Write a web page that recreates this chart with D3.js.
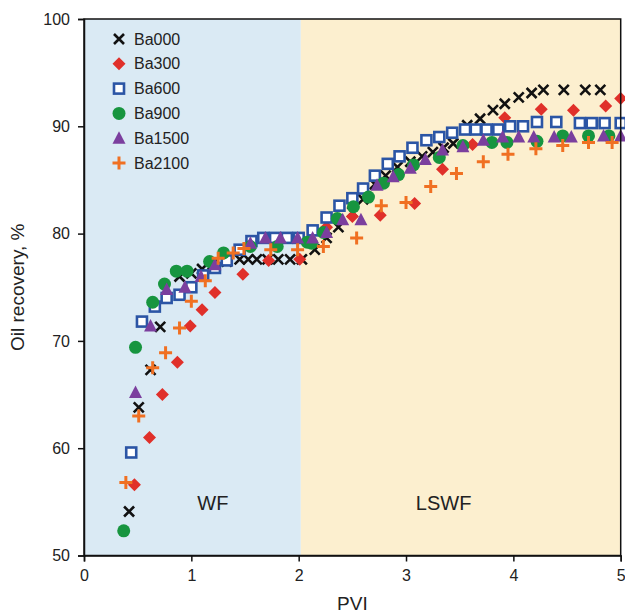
<!DOCTYPE html>
<html>
<head>
<meta charset="utf-8">
<script src="https://cdn.jsdelivr.net/npm/d3@7"></script>
<style>
  body { margin: 0; background: #fff; }
  text { font-family: "Liberation Sans", Arial, sans-serif; fill: #222; }
</style>
</head>
<body>
<div id="chart"></div>
<script>
// series data: [PVI, oil recovery %]
const ba000 = [[0.42,54.1],[0.51,63.8],[0.62,67.3],[0.71,71.3],[0.89,76.0],[1.0,76.3],[1.1,76.7],[1.2,77.1],[1.33,77.4],[1.45,77.6],[1.53,77.6],[1.61,77.6],[1.71,77.6],[1.81,77.6],[1.92,77.6],[2.03,77.6],
  [2.15,78.5],[2.26,79.6],[2.37,80.6],[2.5,82.0],[2.6,83.2],[2.71,84.6],[2.81,85.4],[2.92,86.2],[3.04,86.7],[3.15,87.2],[3.25,87.6],[3.35,88.0],[3.44,88.4],[3.57,90.1],[3.69,90.7],[3.81,91.5],[3.92,92.1],[4.05,92.7],[4.17,93.1],[4.28,93.4],[4.47,93.4],[4.67,93.4],[4.81,93.4]];
const ba300 = [[0.47,56.6],[0.61,61.0],[0.73,65.0],[0.87,68.0],[0.99,71.4],[1.1,72.9],[1.22,74.5],[1.48,76.2],[1.72,77.5],[2.01,77.6],[2.26,80.6],[2.5,81.6],[2.76,81.7],[3.08,82.8],[3.34,86.0],[3.62,88.3],[3.92,90.8],[4.26,91.6],[4.56,91.5],[4.86,91.9],[5.0,92.6]];
const ba600 = [[0.44,59.6],[0.54,71.8],[0.66,73.2],[0.77,74.0],[0.89,74.3],[1.0,75.0],[1.11,76.1],[1.22,76.8],[1.33,77.5],[1.45,78.5],[1.56,79.3],[1.67,79.6],[1.78,79.6],[1.89,79.6],[2.0,79.6],
  [2.13,80.3],[2.26,81.5],[2.38,82.6],[2.5,83.3],[2.6,84.2],[2.71,85.4],[2.83,86.5],[2.94,87.2],[3.06,88.0],[3.19,88.7],[3.31,89.0],[3.43,89.4],[3.55,89.7],[3.65,89.7],[3.75,89.7],[3.86,89.7],[3.97,90.0],[4.09,90.0],[4.22,90.4],[4.4,90.4],[4.62,90.3],[4.73,90.3],[4.85,90.3],[5.0,90.3]];
const ba900 = [[0.37,52.3],[0.48,69.4],[0.64,73.6],[0.75,75.3],[0.86,76.5],[0.96,76.5],[1.17,77.4],[1.3,78.2],[1.55,78.8],[1.8,78.8],[2.08,79.2],
  [2.12,79.1],[2.23,80.1],[2.36,81.4],[2.51,82.5],[2.65,83.4],[2.79,84.7],[2.93,85.5],[3.07,86.4],[3.31,87.1],[3.53,88.2],[3.8,88.5],[3.94,88.5],[4.22,88.6],[4.46,89.1],[4.7,89.1],[4.89,89.1]];
const ba1500 = [[0.48,65.2],[0.62,71.4],[0.77,74.8],[0.94,75.0],[1.09,76.0],[1.22,77.1],[1.55,79.1],[1.69,79.6],[1.83,79.6],[1.99,79.6],
  [2.13,79.6],[2.26,80.1],[2.41,81.3],[2.58,81.3],[2.73,84.5],[2.88,85.3],[3.04,86.1],[3.18,86.9],[3.34,87.8],[3.53,88.1],[3.72,88.7],[3.9,89.0],[4.05,89.0],[4.19,89.0],[4.38,89.0],[4.54,89.0],[4.84,89.1],[5.0,89.1]];
const ba2100 = [[0.39,56.8],[0.51,63.0],[0.64,67.5],[0.76,68.9],[0.89,71.2],[1.0,73.7],[1.13,75.6],[1.25,77.7],[1.39,78.2],[1.49,78.6],[1.74,78.5],[1.99,78.5],
  [2.23,78.8],[2.54,79.6],[2.77,82.6],[3.0,82.9],[3.23,84.4],[3.47,85.6],[3.72,86.7],[3.95,87.4],[4.21,87.9],[4.46,88.2],[4.7,88.5],[4.92,88.5]];

const seriesNames = ["Ba000", "Ba300", "Ba600", "Ba900", "Ba1500", "Ba2100"];
const seriesData = [ba000, ba300, ba600, ba900, ba1500, ba2100];
const xTicks = [0, 1, 2, 3, 4, 5];
const yTicks = [50, 60, 70, 80, 90, 100];
const wfEnd = 2.02;

const colors = ["#111111", "#e0302a", "#2b55a5", "#17953f", "#7b3f9e", "#f07022"];

const margin = { top: 19, right: 4, bottom: 60, left: 84 };
const W = 625, H = 616;

const svg = d3.select("#chart").append("svg")
  .attr("width", W).attr("height", H);
const g = svg.append("g").attr("transform", `translate(${margin.left},${margin.top})`);

const x = d3.scaleLinear().domain([0, 5]).range([0, 536.7]);
const y = d3.scaleLinear().domain([50, 100]).range([536.5, 0]);

// flooding zones
g.append("rect").attr("x", x(0)).attr("y", 0)
  .attr("width", x(wfEnd) - x(0)).attr("height", y(50))
  .attr("fill", "#daeaf4");
g.append("rect").attr("x", x(wfEnd)).attr("y", 0)
  .attr("width", x(5) - x(wfEnd)).attr("height", y(50))
  .attr("fill", "#fcefcf");

g.append("text").attr("x", x(1.2)).attr("y", y(54.2))
  .attr("text-anchor", "middle").style("font-size", "20px").text("WF");
g.append("text").attr("x", x(3.35)).attr("y", y(54.2))
  .attr("text-anchor", "middle").style("font-size", "20px").text("LSWF");

// marker drawing
function drawMarker(sel, i) {
  const c = colors[i];
  if (i === 0) {
    sel.append("path").attr("d", "M-5,-5L5,5M-5,5L5,-5")
      .attr("stroke", c).attr("stroke-width", 2.6).attr("fill", "none");
  } else if (i === 1) {
    sel.append("path").attr("d", "M0,-6.5L6.5,0L0,6.5L-6.5,0Z").attr("fill", c);
  } else if (i === 2) {
    sel.append("rect").attr("x", -5).attr("y", -5).attr("width", 10).attr("height", 10)
      .attr("fill", "#fff").attr("stroke", c).attr("stroke-width", 2.6);
  } else if (i === 3) {
    sel.append("circle").attr("r", 6.5).attr("fill", c);
  } else if (i === 4) {
    sel.append("path").attr("d", "M0,-7L6.5,5.5L-6.5,5.5Z").attr("fill", c);
  } else {
    sel.append("path").attr("d", "M-6.5,0L6.5,0M0,-6.5L0,6.5")
      .attr("stroke", c).attr("stroke-width", 3).attr("fill", "none");
  }
}

seriesData.forEach((data, i) => {
  g.append("g").selectAll("g")
    .data(data)
    .enter().append("g")
    .attr("transform", d => `translate(${x(d[0])},${y(d[1])})`)
    .each(function () { drawMarker(d3.select(this), i); });
});

// frame
g.append("rect").attr("x", 0).attr("y", 0)
  .attr("width", x(5)).attr("height", y(50))
  .attr("fill", "none").attr("stroke", "#111").attr("stroke-width", 1.5);

// axes
const xAxis = g.append("g").attr("transform", `translate(0,${y(50)})`)
  .call(d3.axisBottom(x).tickValues(xTicks).tickSize(6).tickPadding(8).tickFormat(d3.format("d")));
const yAxis = g.append("g")
  .call(d3.axisLeft(y).tickValues(yTicks).tickSize(6).tickPadding(8).tickFormat(d3.format("d")));
[xAxis, yAxis].forEach(a => {
  a.select(".domain").attr("stroke", "#111").attr("stroke-width", 1.5);
  a.selectAll(".tick line").attr("stroke", "#111").attr("stroke-width", 1.5);
  a.selectAll(".tick text").style("font-size", "16px").style("font-family", "'Liberation Sans', Arial, sans-serif").attr("fill", "#222");
});

// axis titles
svg.append("text").attr("x", margin.left + x(2.5)).attr("y", 610)
  .attr("text-anchor", "middle").style("font-size", "19px").text("PVI");
svg.append("text")
  .attr("transform", `translate(24,${margin.top + y(75)}) rotate(-90)`)
  .attr("text-anchor", "middle").style("font-size", "19px").text("Oil recovery, %");

// legend
const legend = g.append("g").attr("transform", `translate(35,20)`);
seriesNames.forEach((name, i) => {
  const row = legend.append("g").attr("transform", `translate(0,${i * 24.8})`);
  drawMarker(row, i);
  row.append("text").attr("x", 15).attr("y", 5.5).style("font-size", "16px").text(name);
});
</script>
</body>
</html>
